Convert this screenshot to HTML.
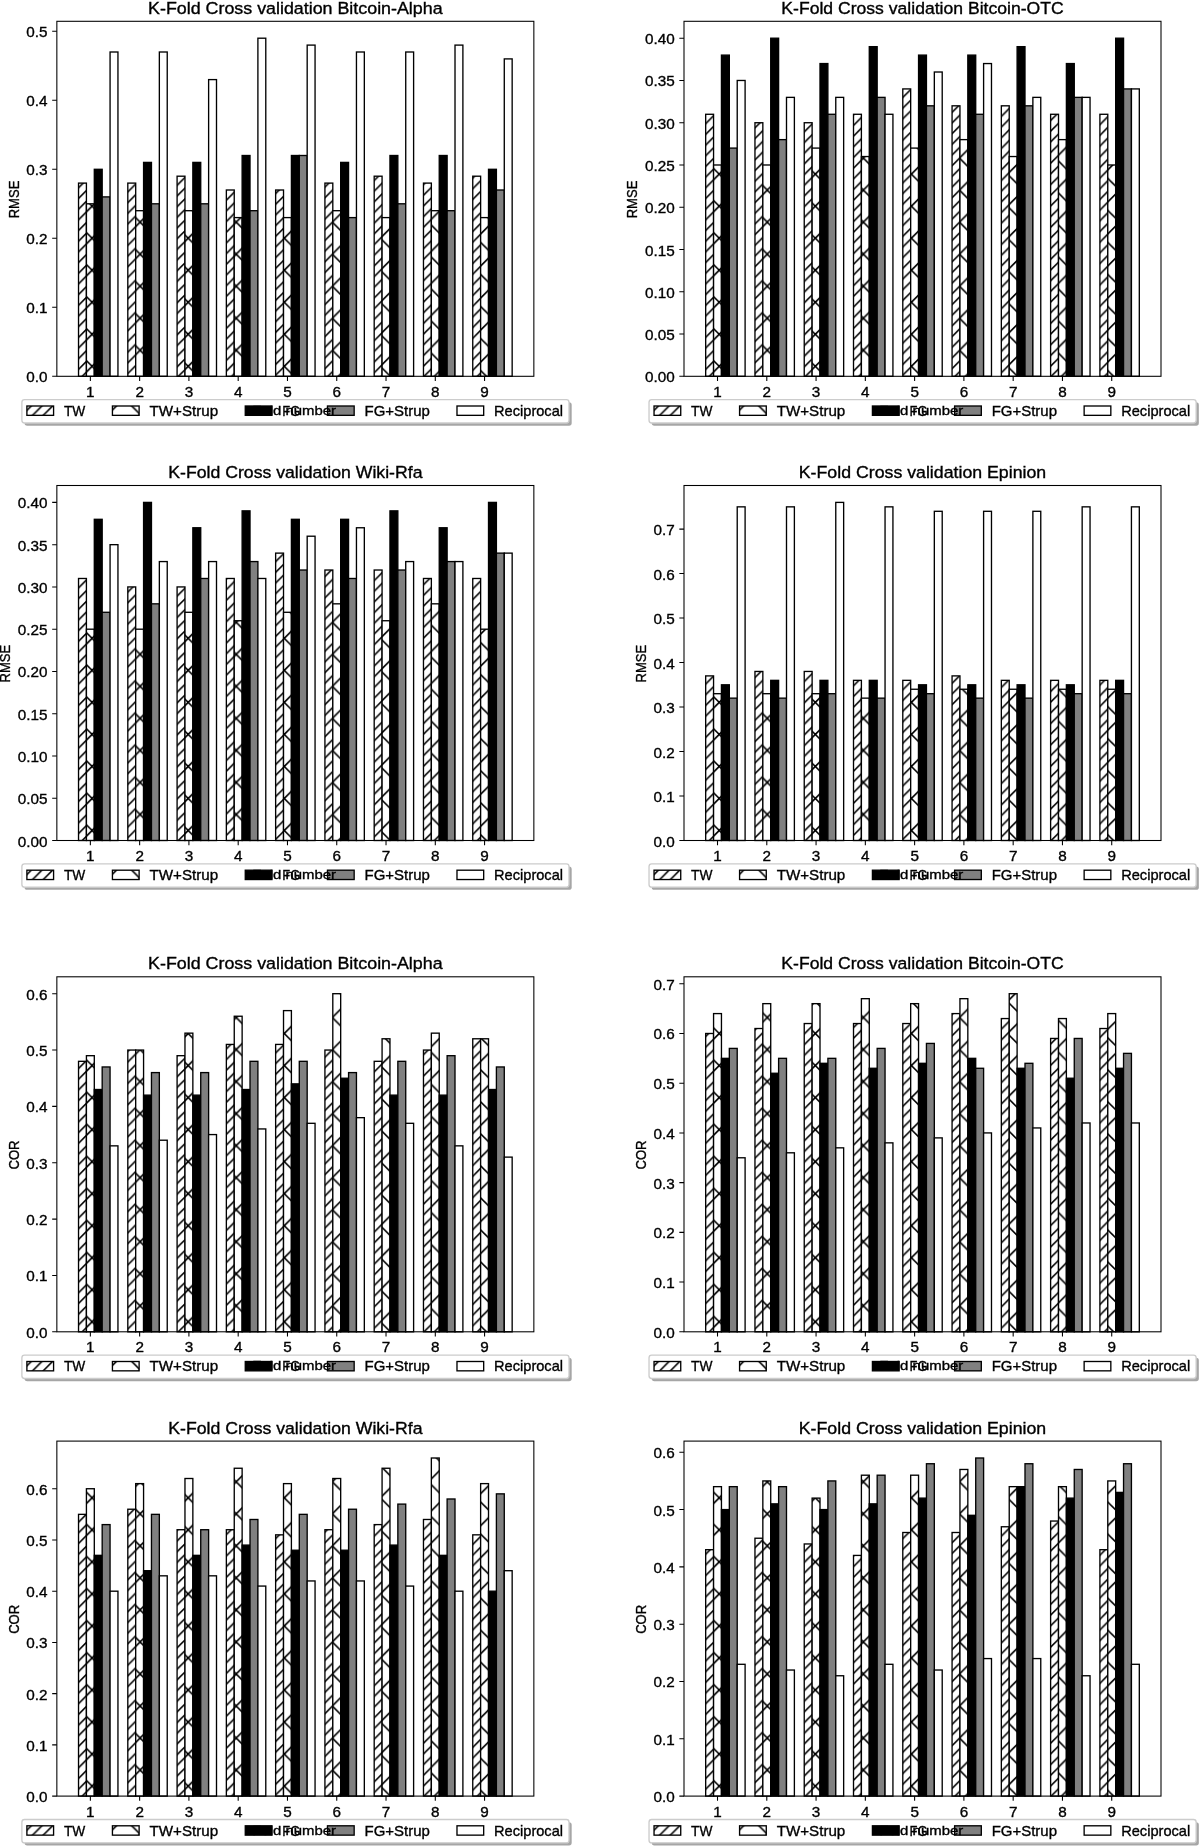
<!DOCTYPE html><html><head><meta charset="utf-8"><title>K-Fold Cross validation</title><style>html,body{margin:0;padding:0;background:#fff;}body{width:1200px;height:1847px;overflow:hidden;font-family:"Liberation Sans",sans-serif;}svg{display:block;filter:grayscale(1);}text{stroke:#000;stroke-width:0.35px;}</style></head><body><svg width="1200" height="1847" viewBox="0 0 1200 1847" font-family="Liberation Sans, sans-serif" fill="#000"><rect width="1200" height="1847" fill="#fff"/><pattern id="h1_0" patternUnits="userSpaceOnUse" x="56.85" y="21.3" width="10.68" height="10.68"><rect width="10.68" height="10.68" fill="#fff"/><path d="M-2 -12.76L12.68 -27.43M-2 -2.08L12.68 -16.76M-2 8.6L12.68 -6.08M-2 19.28L12.68 4.6M-2 29.96L12.68 15.28M-2 40.63L12.68 25.96" stroke="#000" stroke-width="1.6" fill="none"/></pattern><pattern id="hx_0" patternUnits="userSpaceOnUse" x="56.85" y="21.3" width="32.03" height="32.03"><rect width="32.03" height="32.03" fill="#fff"/><path d="M-2 -44.57L34.03 -8.53M-2 -34.17L34.03 -70.2M-2 -12.53L34.03 23.5M-2 -2.13L34.03 -38.17M-2 19.5L34.03 55.53M-2 29.9L34.03 -6.13M-2 51.53L34.03 87.57M-2 61.93L34.03 25.9M-2 83.57L34.03 119.6M-2 93.97L34.03 57.93M-2 115.6L34.03 151.63M-2 126L34.03 89.97" stroke="#000" stroke-width="1.6" fill="none"/></pattern><g stroke="#000" stroke-width="1.34"><rect x="78.53" y="183.1" width="7.88" height="193.2" fill="url(#h1_0)"/><rect x="86.42" y="203.8" width="7.88" height="172.5" fill="url(#hx_0)"/><rect x="94.3" y="169.3" width="7.88" height="207" fill="#000"/><rect x="102.18" y="196.9" width="7.88" height="179.4" fill="#808080"/><rect x="110.07" y="52" width="7.88" height="324.3" fill="#fff"/><rect x="127.81" y="183.1" width="7.88" height="193.2" fill="url(#h1_0)"/><rect x="135.69" y="210.7" width="7.88" height="165.6" fill="url(#hx_0)"/><rect x="143.58" y="162.4" width="7.88" height="213.9" fill="#000"/><rect x="151.46" y="203.8" width="7.88" height="172.5" fill="#808080"/><rect x="159.35" y="52" width="7.88" height="324.3" fill="#fff"/><rect x="177.09" y="176.2" width="7.88" height="200.1" fill="url(#h1_0)"/><rect x="184.97" y="210.7" width="7.88" height="165.6" fill="url(#hx_0)"/><rect x="192.85" y="162.4" width="7.88" height="213.9" fill="#000"/><rect x="200.74" y="203.8" width="7.88" height="172.5" fill="#808080"/><rect x="208.62" y="79.6" width="7.88" height="296.7" fill="#fff"/><rect x="226.36" y="190" width="7.88" height="186.3" fill="url(#h1_0)"/><rect x="234.25" y="217.6" width="7.88" height="158.7" fill="url(#hx_0)"/><rect x="242.13" y="155.5" width="7.88" height="220.8" fill="#000"/><rect x="250.02" y="210.7" width="7.88" height="165.6" fill="#808080"/><rect x="257.9" y="38.2" width="7.88" height="338.1" fill="#fff"/><rect x="275.64" y="190" width="7.88" height="186.3" fill="url(#h1_0)"/><rect x="283.52" y="217.6" width="7.88" height="158.7" fill="url(#hx_0)"/><rect x="291.41" y="155.5" width="7.88" height="220.8" fill="#000"/><rect x="299.29" y="155.5" width="7.88" height="220.8" fill="#808080"/><rect x="307.18" y="45.1" width="7.88" height="331.2" fill="#fff"/><rect x="324.92" y="183.1" width="7.88" height="193.2" fill="url(#h1_0)"/><rect x="332.8" y="210.7" width="7.88" height="165.6" fill="url(#hx_0)"/><rect x="340.68" y="162.4" width="7.88" height="213.9" fill="#000"/><rect x="348.57" y="217.6" width="7.88" height="158.7" fill="#808080"/><rect x="356.45" y="52" width="7.88" height="324.3" fill="#fff"/><rect x="374.19" y="176.2" width="7.88" height="200.1" fill="url(#h1_0)"/><rect x="382.08" y="217.6" width="7.88" height="158.7" fill="url(#hx_0)"/><rect x="389.96" y="155.5" width="7.88" height="220.8" fill="#000"/><rect x="397.85" y="203.8" width="7.88" height="172.5" fill="#808080"/><rect x="405.73" y="52" width="7.88" height="324.3" fill="#fff"/><rect x="423.47" y="183.1" width="7.88" height="193.2" fill="url(#h1_0)"/><rect x="431.35" y="210.7" width="7.88" height="165.6" fill="url(#hx_0)"/><rect x="439.24" y="155.5" width="7.88" height="220.8" fill="#000"/><rect x="447.12" y="210.7" width="7.88" height="165.6" fill="#808080"/><rect x="455.01" y="45.1" width="7.88" height="331.2" fill="#fff"/><rect x="472.75" y="176.2" width="7.88" height="200.1" fill="url(#h1_0)"/><rect x="480.63" y="217.6" width="7.88" height="158.7" fill="url(#hx_0)"/><rect x="488.52" y="169.3" width="7.88" height="207" fill="#000"/><rect x="496.4" y="190" width="7.88" height="186.3" fill="#808080"/><rect x="504.28" y="58.9" width="7.88" height="317.4" fill="#fff"/></g><rect x="56.85" y="21.3" width="477" height="355" fill="none" stroke="#000" stroke-width="1.07"/><path d="M52.18 376.3H56.85M52.18 307.3H56.85M52.18 238.3H56.85M52.18 169.3H56.85M52.18 100.3H56.85M52.18 31.3H56.85M90.36 376.3V380.97M139.64 376.3V380.97M188.91 376.3V380.97M238.19 376.3V380.97M287.47 376.3V380.97M336.74 376.3V380.97M386.02 376.3V380.97M435.3 376.3V380.97M484.57 376.3V380.97" stroke="#000" stroke-width="1.07" fill="none"/><text x="47.51" y="382.3" font-size="15" text-anchor="end" textLength="21.23" lengthAdjust="spacingAndGlyphs">0.0</text><text x="47.51" y="313.3" font-size="15" text-anchor="end" textLength="21.23" lengthAdjust="spacingAndGlyphs">0.1</text><text x="47.51" y="244.3" font-size="15" text-anchor="end" textLength="21.23" lengthAdjust="spacingAndGlyphs">0.2</text><text x="47.51" y="175.3" font-size="15" text-anchor="end" textLength="21.23" lengthAdjust="spacingAndGlyphs">0.3</text><text x="47.51" y="106.3" font-size="15" text-anchor="end" textLength="21.23" lengthAdjust="spacingAndGlyphs">0.4</text><text x="47.51" y="37.3" font-size="15" text-anchor="end" textLength="21.23" lengthAdjust="spacingAndGlyphs">0.5</text><text x="90.36" y="396.9" font-size="15" text-anchor="middle" textLength="8.49" lengthAdjust="spacingAndGlyphs">1</text><text x="139.64" y="396.9" font-size="15" text-anchor="middle" textLength="8.49" lengthAdjust="spacingAndGlyphs">2</text><text x="188.91" y="396.9" font-size="15" text-anchor="middle" textLength="8.49" lengthAdjust="spacingAndGlyphs">3</text><text x="238.19" y="396.9" font-size="15" text-anchor="middle" textLength="8.49" lengthAdjust="spacingAndGlyphs">4</text><text x="287.47" y="396.9" font-size="15" text-anchor="middle" textLength="8.49" lengthAdjust="spacingAndGlyphs">5</text><text x="336.74" y="396.9" font-size="15" text-anchor="middle" textLength="8.49" lengthAdjust="spacingAndGlyphs">6</text><text x="386.02" y="396.9" font-size="15" text-anchor="middle" textLength="8.49" lengthAdjust="spacingAndGlyphs">7</text><text x="435.3" y="396.9" font-size="15" text-anchor="middle" textLength="8.49" lengthAdjust="spacingAndGlyphs">8</text><text x="484.57" y="396.9" font-size="15" text-anchor="middle" textLength="8.49" lengthAdjust="spacingAndGlyphs">9</text><g transform="translate(18.52 199.5) rotate(-90)"><text x="0" y="0" font-size="15" text-anchor="middle" textLength="37.7" lengthAdjust="spacingAndGlyphs">RMSE</text></g><text x="295.35" y="13.9" font-size="16.8" text-anchor="middle" textLength="294.5" lengthAdjust="spacingAndGlyphs">K-Fold Cross validation Bitcoin-Alpha</text><rect x="24.55" y="402.37" width="547.14" height="23.3" rx="2.67" fill="#a6a6a6"/><rect x="21.88" y="399.7" width="547.14" height="23.3" rx="2.67" fill="#fff" stroke="#ccc" stroke-width="1.34"/><rect x="26.89" y="406" width="26.69" height="9.34" fill="url(#h1_0)" stroke="#000" stroke-width="1.34"/><text x="63.96" y="415.7" font-size="15" text-anchor="start" textLength="21.35" lengthAdjust="spacingAndGlyphs">TW</text><rect x="112.43" y="406" width="26.69" height="9.34" fill="url(#hx_0)" stroke="#000" stroke-width="1.34"/><text x="149.5" y="415.7" font-size="15" text-anchor="start" textLength="68.66" lengthAdjust="spacingAndGlyphs">TW+Strup</text><rect x="245.27" y="406" width="26.69" height="9.34" fill="#000" stroke="#000" stroke-width="1.34"/><text x="282.34" y="415.7" font-size="15" text-anchor="start" textLength="18.02" lengthAdjust="spacingAndGlyphs">FG</text><rect x="327.47" y="406" width="26.69" height="9.34" fill="#808080" stroke="#000" stroke-width="1.34"/><text x="364.55" y="415.7" font-size="15" text-anchor="start" textLength="65.33" lengthAdjust="spacingAndGlyphs">FG+Strup</text><rect x="456.99" y="406" width="26.69" height="9.34" fill="#fff" stroke="#000" stroke-width="1.34"/><text x="494.06" y="415.7" font-size="15" text-anchor="start" textLength="68.99" lengthAdjust="spacingAndGlyphs">Reciprocal</text><text x="294.15" y="414.9" font-size="13.4" text-anchor="middle" textLength="83.88" lengthAdjust="spacingAndGlyphs">Fold number</text><pattern id="h1_1" patternUnits="userSpaceOnUse" x="684" y="21.3" width="10.68" height="10.68"><rect width="10.68" height="10.68" fill="#fff"/><path d="M-2 -12.76L12.68 -27.43M-2 -2.08L12.68 -16.76M-2 8.6L12.68 -6.08M-2 19.28L12.68 4.6M-2 29.96L12.68 15.28M-2 40.63L12.68 25.96" stroke="#000" stroke-width="1.6" fill="none"/></pattern><pattern id="hx_1" patternUnits="userSpaceOnUse" x="684" y="21.3" width="32.03" height="32.03"><rect width="32.03" height="32.03" fill="#fff"/><path d="M-2 -44.57L34.03 -8.53M-2 -34.17L34.03 -70.2M-2 -12.53L34.03 23.5M-2 -2.13L34.03 -38.17M-2 19.5L34.03 55.53M-2 29.9L34.03 -6.13M-2 51.53L34.03 87.57M-2 61.93L34.03 25.9M-2 83.57L34.03 119.6M-2 93.97L34.03 57.93M-2 115.6L34.03 151.63M-2 126L34.03 89.97" stroke="#000" stroke-width="1.6" fill="none"/></pattern><g stroke="#000" stroke-width="1.34"><rect x="705.68" y="114.28" width="7.88" height="262.02" fill="url(#h1_1)"/><rect x="713.57" y="164.99" width="7.88" height="211.31" fill="url(#hx_1)"/><rect x="721.45" y="55.11" width="7.88" height="321.19" fill="#000"/><rect x="729.33" y="148.09" width="7.88" height="228.21" fill="#808080"/><rect x="737.22" y="80.47" width="7.88" height="295.83" fill="#fff"/><rect x="754.96" y="122.73" width="7.88" height="253.57" fill="url(#h1_1)"/><rect x="762.84" y="164.99" width="7.88" height="211.31" fill="url(#hx_1)"/><rect x="770.73" y="38.2" width="7.88" height="338.1" fill="#000"/><rect x="778.61" y="139.63" width="7.88" height="236.67" fill="#808080"/><rect x="786.5" y="97.37" width="7.88" height="278.93" fill="#fff"/><rect x="804.24" y="122.73" width="7.88" height="253.57" fill="url(#h1_1)"/><rect x="812.12" y="148.09" width="7.88" height="228.21" fill="url(#hx_1)"/><rect x="820" y="63.56" width="7.88" height="312.74" fill="#000"/><rect x="827.89" y="114.28" width="7.88" height="262.02" fill="#808080"/><rect x="835.77" y="97.37" width="7.88" height="278.93" fill="#fff"/><rect x="853.51" y="114.28" width="7.88" height="262.02" fill="url(#h1_1)"/><rect x="861.4" y="156.54" width="7.88" height="219.76" fill="url(#hx_1)"/><rect x="869.28" y="46.66" width="7.88" height="329.64" fill="#000"/><rect x="877.17" y="97.37" width="7.88" height="278.93" fill="#808080"/><rect x="885.05" y="114.28" width="7.88" height="262.02" fill="#fff"/><rect x="902.79" y="88.92" width="7.88" height="287.38" fill="url(#h1_1)"/><rect x="910.67" y="148.09" width="7.88" height="228.21" fill="url(#hx_1)"/><rect x="918.56" y="55.11" width="7.88" height="321.19" fill="#000"/><rect x="926.44" y="105.82" width="7.88" height="270.48" fill="#808080"/><rect x="934.33" y="72.01" width="7.88" height="304.29" fill="#fff"/><rect x="952.07" y="105.82" width="7.88" height="270.48" fill="url(#h1_1)"/><rect x="959.95" y="139.63" width="7.88" height="236.67" fill="url(#hx_1)"/><rect x="967.83" y="55.11" width="7.88" height="321.19" fill="#000"/><rect x="975.72" y="114.28" width="7.88" height="262.02" fill="#808080"/><rect x="983.6" y="63.56" width="7.88" height="312.74" fill="#fff"/><rect x="1001.34" y="105.82" width="7.88" height="270.48" fill="url(#h1_1)"/><rect x="1009.23" y="156.54" width="7.88" height="219.76" fill="url(#hx_1)"/><rect x="1017.11" y="46.66" width="7.88" height="329.64" fill="#000"/><rect x="1025" y="105.82" width="7.88" height="270.48" fill="#808080"/><rect x="1032.88" y="97.37" width="7.88" height="278.93" fill="#fff"/><rect x="1050.62" y="114.28" width="7.88" height="262.02" fill="url(#h1_1)"/><rect x="1058.5" y="139.63" width="7.88" height="236.67" fill="url(#hx_1)"/><rect x="1066.39" y="63.56" width="7.88" height="312.74" fill="#000"/><rect x="1074.27" y="97.37" width="7.88" height="278.93" fill="#808080"/><rect x="1082.16" y="97.37" width="7.88" height="278.93" fill="#fff"/><rect x="1099.9" y="114.28" width="7.88" height="262.02" fill="url(#h1_1)"/><rect x="1107.78" y="164.99" width="7.88" height="211.31" fill="url(#hx_1)"/><rect x="1115.67" y="38.2" width="7.88" height="338.1" fill="#000"/><rect x="1123.55" y="88.92" width="7.88" height="287.38" fill="#808080"/><rect x="1131.43" y="88.92" width="7.88" height="287.38" fill="#fff"/></g><rect x="684" y="21.3" width="477" height="355" fill="none" stroke="#000" stroke-width="1.07"/><path d="M679.33 376.3H684M679.33 334.04H684M679.33 291.78H684M679.33 249.51H684M679.33 207.25H684M679.33 164.99H684M679.33 122.73H684M679.33 80.47H684M679.33 38.2H684M717.51 376.3V380.97M766.79 376.3V380.97M816.06 376.3V380.97M865.34 376.3V380.97M914.62 376.3V380.97M963.89 376.3V380.97M1013.17 376.3V380.97M1062.45 376.3V380.97M1111.72 376.3V380.97" stroke="#000" stroke-width="1.07" fill="none"/><text x="674.66" y="382.3" font-size="15" text-anchor="end" textLength="29.72" lengthAdjust="spacingAndGlyphs">0.00</text><text x="674.66" y="340.04" font-size="15" text-anchor="end" textLength="29.72" lengthAdjust="spacingAndGlyphs">0.05</text><text x="674.66" y="297.78" font-size="15" text-anchor="end" textLength="29.72" lengthAdjust="spacingAndGlyphs">0.10</text><text x="674.66" y="255.51" font-size="15" text-anchor="end" textLength="29.72" lengthAdjust="spacingAndGlyphs">0.15</text><text x="674.66" y="213.25" font-size="15" text-anchor="end" textLength="29.72" lengthAdjust="spacingAndGlyphs">0.20</text><text x="674.66" y="170.99" font-size="15" text-anchor="end" textLength="29.72" lengthAdjust="spacingAndGlyphs">0.25</text><text x="674.66" y="128.73" font-size="15" text-anchor="end" textLength="29.72" lengthAdjust="spacingAndGlyphs">0.30</text><text x="674.66" y="86.47" font-size="15" text-anchor="end" textLength="29.72" lengthAdjust="spacingAndGlyphs">0.35</text><text x="674.66" y="44.2" font-size="15" text-anchor="end" textLength="29.72" lengthAdjust="spacingAndGlyphs">0.40</text><text x="717.51" y="396.9" font-size="15" text-anchor="middle" textLength="8.49" lengthAdjust="spacingAndGlyphs">1</text><text x="766.79" y="396.9" font-size="15" text-anchor="middle" textLength="8.49" lengthAdjust="spacingAndGlyphs">2</text><text x="816.06" y="396.9" font-size="15" text-anchor="middle" textLength="8.49" lengthAdjust="spacingAndGlyphs">3</text><text x="865.34" y="396.9" font-size="15" text-anchor="middle" textLength="8.49" lengthAdjust="spacingAndGlyphs">4</text><text x="914.62" y="396.9" font-size="15" text-anchor="middle" textLength="8.49" lengthAdjust="spacingAndGlyphs">5</text><text x="963.89" y="396.9" font-size="15" text-anchor="middle" textLength="8.49" lengthAdjust="spacingAndGlyphs">6</text><text x="1013.17" y="396.9" font-size="15" text-anchor="middle" textLength="8.49" lengthAdjust="spacingAndGlyphs">7</text><text x="1062.45" y="396.9" font-size="15" text-anchor="middle" textLength="8.49" lengthAdjust="spacingAndGlyphs">8</text><text x="1111.72" y="396.9" font-size="15" text-anchor="middle" textLength="8.49" lengthAdjust="spacingAndGlyphs">9</text><g transform="translate(637.18 199.5) rotate(-90)"><text x="0" y="0" font-size="15" text-anchor="middle" textLength="37.7" lengthAdjust="spacingAndGlyphs">RMSE</text></g><text x="922.5" y="13.9" font-size="16.8" text-anchor="middle" textLength="282.27" lengthAdjust="spacingAndGlyphs">K-Fold Cross validation Bitcoin-OTC</text><rect x="651.7" y="402.37" width="547.14" height="23.3" rx="2.67" fill="#a6a6a6"/><rect x="649.03" y="399.7" width="547.14" height="23.3" rx="2.67" fill="#fff" stroke="#ccc" stroke-width="1.34"/><rect x="654.04" y="406" width="26.69" height="9.34" fill="url(#h1_1)" stroke="#000" stroke-width="1.34"/><text x="691.11" y="415.7" font-size="15" text-anchor="start" textLength="21.35" lengthAdjust="spacingAndGlyphs">TW</text><rect x="739.58" y="406" width="26.69" height="9.34" fill="url(#hx_1)" stroke="#000" stroke-width="1.34"/><text x="776.65" y="415.7" font-size="15" text-anchor="start" textLength="68.66" lengthAdjust="spacingAndGlyphs">TW+Strup</text><rect x="872.42" y="406" width="26.69" height="9.34" fill="#000" stroke="#000" stroke-width="1.34"/><text x="909.49" y="415.7" font-size="15" text-anchor="start" textLength="18.02" lengthAdjust="spacingAndGlyphs">FG</text><rect x="954.62" y="406" width="26.69" height="9.34" fill="#808080" stroke="#000" stroke-width="1.34"/><text x="991.7" y="415.7" font-size="15" text-anchor="start" textLength="65.33" lengthAdjust="spacingAndGlyphs">FG+Strup</text><rect x="1084.14" y="406" width="26.69" height="9.34" fill="#fff" stroke="#000" stroke-width="1.34"/><text x="1121.21" y="415.7" font-size="15" text-anchor="start" textLength="68.99" lengthAdjust="spacingAndGlyphs">Reciprocal</text><text x="921.3" y="414.9" font-size="13.4" text-anchor="middle" textLength="83.88" lengthAdjust="spacingAndGlyphs">Fold number</text><pattern id="h1_2" patternUnits="userSpaceOnUse" x="56.85" y="485.5" width="10.68" height="10.68"><rect width="10.68" height="10.68" fill="#fff"/><path d="M-2 -12.76L12.68 -27.43M-2 -2.08L12.68 -16.76M-2 8.6L12.68 -6.08M-2 19.28L12.68 4.6M-2 29.96L12.68 15.28M-2 40.63L12.68 25.96" stroke="#000" stroke-width="1.6" fill="none"/></pattern><pattern id="hx_2" patternUnits="userSpaceOnUse" x="56.85" y="485.5" width="32.03" height="32.03"><rect width="32.03" height="32.03" fill="#fff"/><path d="M-2 -44.57L34.03 -8.53M-2 -34.17L34.03 -70.2M-2 -12.53L34.03 23.5M-2 -2.13L34.03 -38.17M-2 19.5L34.03 55.53M-2 29.9L34.03 -6.13M-2 51.53L34.03 87.57M-2 61.93L34.03 25.9M-2 83.57L34.03 119.6M-2 93.97L34.03 57.93M-2 115.6L34.03 151.63M-2 126L34.03 89.97" stroke="#000" stroke-width="1.6" fill="none"/></pattern><g stroke="#000" stroke-width="1.34"><rect x="78.53" y="578.48" width="7.88" height="262.02" fill="url(#h1_2)"/><rect x="86.42" y="629.19" width="7.88" height="211.31" fill="url(#hx_2)"/><rect x="94.3" y="519.31" width="7.88" height="321.19" fill="#000"/><rect x="102.18" y="612.29" width="7.88" height="228.21" fill="#808080"/><rect x="110.07" y="544.67" width="7.88" height="295.83" fill="#fff"/><rect x="127.81" y="586.93" width="7.88" height="253.57" fill="url(#h1_2)"/><rect x="135.69" y="629.19" width="7.88" height="211.31" fill="url(#hx_2)"/><rect x="143.58" y="502.4" width="7.88" height="338.1" fill="#000"/><rect x="151.46" y="603.83" width="7.88" height="236.67" fill="#808080"/><rect x="159.35" y="561.57" width="7.88" height="278.93" fill="#fff"/><rect x="177.09" y="586.93" width="7.88" height="253.57" fill="url(#h1_2)"/><rect x="184.97" y="612.29" width="7.88" height="228.21" fill="url(#hx_2)"/><rect x="192.85" y="527.76" width="7.88" height="312.74" fill="#000"/><rect x="200.74" y="578.48" width="7.88" height="262.02" fill="#808080"/><rect x="208.62" y="561.57" width="7.88" height="278.93" fill="#fff"/><rect x="226.36" y="578.48" width="7.88" height="262.02" fill="url(#h1_2)"/><rect x="234.25" y="620.74" width="7.88" height="219.76" fill="url(#hx_2)"/><rect x="242.13" y="510.86" width="7.88" height="329.64" fill="#000"/><rect x="250.02" y="561.57" width="7.88" height="278.93" fill="#808080"/><rect x="257.9" y="578.48" width="7.88" height="262.02" fill="#fff"/><rect x="275.64" y="553.12" width="7.88" height="287.38" fill="url(#h1_2)"/><rect x="283.52" y="612.29" width="7.88" height="228.21" fill="url(#hx_2)"/><rect x="291.41" y="519.31" width="7.88" height="321.19" fill="#000"/><rect x="299.29" y="570.02" width="7.88" height="270.48" fill="#808080"/><rect x="307.18" y="536.21" width="7.88" height="304.29" fill="#fff"/><rect x="324.92" y="570.02" width="7.88" height="270.48" fill="url(#h1_2)"/><rect x="332.8" y="603.83" width="7.88" height="236.67" fill="url(#hx_2)"/><rect x="340.68" y="519.31" width="7.88" height="321.19" fill="#000"/><rect x="348.57" y="578.48" width="7.88" height="262.02" fill="#808080"/><rect x="356.45" y="527.76" width="7.88" height="312.74" fill="#fff"/><rect x="374.19" y="570.02" width="7.88" height="270.48" fill="url(#h1_2)"/><rect x="382.08" y="620.74" width="7.88" height="219.76" fill="url(#hx_2)"/><rect x="389.96" y="510.86" width="7.88" height="329.64" fill="#000"/><rect x="397.85" y="570.02" width="7.88" height="270.48" fill="#808080"/><rect x="405.73" y="561.57" width="7.88" height="278.93" fill="#fff"/><rect x="423.47" y="578.48" width="7.88" height="262.02" fill="url(#h1_2)"/><rect x="431.35" y="603.83" width="7.88" height="236.67" fill="url(#hx_2)"/><rect x="439.24" y="527.76" width="7.88" height="312.74" fill="#000"/><rect x="447.12" y="561.57" width="7.88" height="278.93" fill="#808080"/><rect x="455.01" y="561.57" width="7.88" height="278.93" fill="#fff"/><rect x="472.75" y="578.48" width="7.88" height="262.02" fill="url(#h1_2)"/><rect x="480.63" y="629.19" width="7.88" height="211.31" fill="url(#hx_2)"/><rect x="488.52" y="502.4" width="7.88" height="338.1" fill="#000"/><rect x="496.4" y="553.12" width="7.88" height="287.38" fill="#808080"/><rect x="504.28" y="553.12" width="7.88" height="287.38" fill="#fff"/></g><rect x="56.85" y="485.5" width="477" height="355" fill="none" stroke="#000" stroke-width="1.07"/><path d="M52.18 840.5H56.85M52.18 798.24H56.85M52.18 755.98H56.85M52.18 713.71H56.85M52.18 671.45H56.85M52.18 629.19H56.85M52.18 586.93H56.85M52.18 544.67H56.85M52.18 502.4H56.85M90.36 840.5V845.17M139.64 840.5V845.17M188.91 840.5V845.17M238.19 840.5V845.17M287.47 840.5V845.17M336.74 840.5V845.17M386.02 840.5V845.17M435.3 840.5V845.17M484.57 840.5V845.17" stroke="#000" stroke-width="1.07" fill="none"/><text x="47.51" y="846.5" font-size="15" text-anchor="end" textLength="29.72" lengthAdjust="spacingAndGlyphs">0.00</text><text x="47.51" y="804.24" font-size="15" text-anchor="end" textLength="29.72" lengthAdjust="spacingAndGlyphs">0.05</text><text x="47.51" y="761.98" font-size="15" text-anchor="end" textLength="29.72" lengthAdjust="spacingAndGlyphs">0.10</text><text x="47.51" y="719.71" font-size="15" text-anchor="end" textLength="29.72" lengthAdjust="spacingAndGlyphs">0.15</text><text x="47.51" y="677.45" font-size="15" text-anchor="end" textLength="29.72" lengthAdjust="spacingAndGlyphs">0.20</text><text x="47.51" y="635.19" font-size="15" text-anchor="end" textLength="29.72" lengthAdjust="spacingAndGlyphs">0.25</text><text x="47.51" y="592.93" font-size="15" text-anchor="end" textLength="29.72" lengthAdjust="spacingAndGlyphs">0.30</text><text x="47.51" y="550.67" font-size="15" text-anchor="end" textLength="29.72" lengthAdjust="spacingAndGlyphs">0.35</text><text x="47.51" y="508.4" font-size="15" text-anchor="end" textLength="29.72" lengthAdjust="spacingAndGlyphs">0.40</text><text x="90.36" y="861.1" font-size="15" text-anchor="middle" textLength="8.49" lengthAdjust="spacingAndGlyphs">1</text><text x="139.64" y="861.1" font-size="15" text-anchor="middle" textLength="8.49" lengthAdjust="spacingAndGlyphs">2</text><text x="188.91" y="861.1" font-size="15" text-anchor="middle" textLength="8.49" lengthAdjust="spacingAndGlyphs">3</text><text x="238.19" y="861.1" font-size="15" text-anchor="middle" textLength="8.49" lengthAdjust="spacingAndGlyphs">4</text><text x="287.47" y="861.1" font-size="15" text-anchor="middle" textLength="8.49" lengthAdjust="spacingAndGlyphs">5</text><text x="336.74" y="861.1" font-size="15" text-anchor="middle" textLength="8.49" lengthAdjust="spacingAndGlyphs">6</text><text x="386.02" y="861.1" font-size="15" text-anchor="middle" textLength="8.49" lengthAdjust="spacingAndGlyphs">7</text><text x="435.3" y="861.1" font-size="15" text-anchor="middle" textLength="8.49" lengthAdjust="spacingAndGlyphs">8</text><text x="484.57" y="861.1" font-size="15" text-anchor="middle" textLength="8.49" lengthAdjust="spacingAndGlyphs">9</text><g transform="translate(10.03 663.7) rotate(-90)"><text x="0" y="0" font-size="15" text-anchor="middle" textLength="37.7" lengthAdjust="spacingAndGlyphs">RMSE</text></g><text x="295.35" y="478.1" font-size="16.8" text-anchor="middle" textLength="254.23" lengthAdjust="spacingAndGlyphs">K-Fold Cross validation Wiki-Rfa</text><rect x="24.55" y="866.57" width="547.14" height="23.3" rx="2.67" fill="#a6a6a6"/><rect x="21.88" y="863.9" width="547.14" height="23.3" rx="2.67" fill="#fff" stroke="#ccc" stroke-width="1.34"/><rect x="26.89" y="870.2" width="26.69" height="9.34" fill="url(#h1_2)" stroke="#000" stroke-width="1.34"/><text x="63.96" y="879.9" font-size="15" text-anchor="start" textLength="21.35" lengthAdjust="spacingAndGlyphs">TW</text><rect x="112.43" y="870.2" width="26.69" height="9.34" fill="url(#hx_2)" stroke="#000" stroke-width="1.34"/><text x="149.5" y="879.9" font-size="15" text-anchor="start" textLength="68.66" lengthAdjust="spacingAndGlyphs">TW+Strup</text><rect x="245.27" y="870.2" width="26.69" height="9.34" fill="#000" stroke="#000" stroke-width="1.34"/><text x="282.34" y="879.9" font-size="15" text-anchor="start" textLength="18.02" lengthAdjust="spacingAndGlyphs">FG</text><rect x="327.47" y="870.2" width="26.69" height="9.34" fill="#808080" stroke="#000" stroke-width="1.34"/><text x="364.55" y="879.9" font-size="15" text-anchor="start" textLength="65.33" lengthAdjust="spacingAndGlyphs">FG+Strup</text><rect x="456.99" y="870.2" width="26.69" height="9.34" fill="#fff" stroke="#000" stroke-width="1.34"/><text x="494.06" y="879.9" font-size="15" text-anchor="start" textLength="68.99" lengthAdjust="spacingAndGlyphs">Reciprocal</text><text x="294.15" y="879.1" font-size="13.4" text-anchor="middle" textLength="83.88" lengthAdjust="spacingAndGlyphs">Fold number</text><pattern id="h1_3" patternUnits="userSpaceOnUse" x="684" y="485.5" width="10.68" height="10.68"><rect width="10.68" height="10.68" fill="#fff"/><path d="M-2 -12.76L12.68 -27.43M-2 -2.08L12.68 -16.76M-2 8.6L12.68 -6.08M-2 19.28L12.68 4.6M-2 29.96L12.68 15.28M-2 40.63L12.68 25.96" stroke="#000" stroke-width="1.6" fill="none"/></pattern><pattern id="hx_3" patternUnits="userSpaceOnUse" x="684" y="485.5" width="32.03" height="32.03"><rect width="32.03" height="32.03" fill="#fff"/><path d="M-2 -44.57L34.03 -8.53M-2 -34.17L34.03 -70.2M-2 -12.53L34.03 23.5M-2 -2.13L34.03 -38.17M-2 19.5L34.03 55.53M-2 29.9L34.03 -6.13M-2 51.53L34.03 87.57M-2 61.93L34.03 25.9M-2 83.57L34.03 119.6M-2 93.97L34.03 57.93M-2 115.6L34.03 151.63M-2 126L34.03 89.97" stroke="#000" stroke-width="1.6" fill="none"/></pattern><g stroke="#000" stroke-width="1.34"><rect x="705.68" y="675.9" width="7.88" height="164.6" fill="url(#h1_3)"/><rect x="713.57" y="693.7" width="7.88" height="146.8" fill="url(#hx_3)"/><rect x="721.45" y="684.8" width="7.88" height="155.7" fill="#000"/><rect x="729.33" y="698.14" width="7.88" height="142.36" fill="#808080"/><rect x="737.22" y="506.85" width="7.88" height="333.65" fill="#fff"/><rect x="754.96" y="671.45" width="7.88" height="169.05" fill="url(#h1_3)"/><rect x="762.84" y="693.7" width="7.88" height="146.8" fill="url(#hx_3)"/><rect x="770.73" y="680.35" width="7.88" height="160.15" fill="#000"/><rect x="778.61" y="698.14" width="7.88" height="142.36" fill="#808080"/><rect x="786.5" y="506.85" width="7.88" height="333.65" fill="#fff"/><rect x="804.24" y="671.45" width="7.88" height="169.05" fill="url(#h1_3)"/><rect x="812.12" y="693.7" width="7.88" height="146.8" fill="url(#hx_3)"/><rect x="820" y="680.35" width="7.88" height="160.15" fill="#000"/><rect x="827.89" y="693.7" width="7.88" height="146.8" fill="#808080"/><rect x="835.77" y="502.4" width="7.88" height="338.1" fill="#fff"/><rect x="853.51" y="680.35" width="7.88" height="160.15" fill="url(#h1_3)"/><rect x="861.4" y="698.14" width="7.88" height="142.36" fill="url(#hx_3)"/><rect x="869.28" y="680.35" width="7.88" height="160.15" fill="#000"/><rect x="877.17" y="698.14" width="7.88" height="142.36" fill="#808080"/><rect x="885.05" y="506.85" width="7.88" height="333.65" fill="#fff"/><rect x="902.79" y="680.35" width="7.88" height="160.15" fill="url(#h1_3)"/><rect x="910.67" y="689.25" width="7.88" height="151.25" fill="url(#hx_3)"/><rect x="918.56" y="684.8" width="7.88" height="155.7" fill="#000"/><rect x="926.44" y="693.7" width="7.88" height="146.8" fill="#808080"/><rect x="934.33" y="511.3" width="7.88" height="329.2" fill="#fff"/><rect x="952.07" y="675.9" width="7.88" height="164.6" fill="url(#h1_3)"/><rect x="959.95" y="689.25" width="7.88" height="151.25" fill="url(#hx_3)"/><rect x="967.83" y="684.8" width="7.88" height="155.7" fill="#000"/><rect x="975.72" y="698.14" width="7.88" height="142.36" fill="#808080"/><rect x="983.6" y="511.3" width="7.88" height="329.2" fill="#fff"/><rect x="1001.34" y="680.35" width="7.88" height="160.15" fill="url(#h1_3)"/><rect x="1009.23" y="689.25" width="7.88" height="151.25" fill="url(#hx_3)"/><rect x="1017.11" y="684.8" width="7.88" height="155.7" fill="#000"/><rect x="1025" y="698.14" width="7.88" height="142.36" fill="#808080"/><rect x="1032.88" y="511.3" width="7.88" height="329.2" fill="#fff"/><rect x="1050.62" y="680.35" width="7.88" height="160.15" fill="url(#h1_3)"/><rect x="1058.5" y="689.25" width="7.88" height="151.25" fill="url(#hx_3)"/><rect x="1066.39" y="684.8" width="7.88" height="155.7" fill="#000"/><rect x="1074.27" y="693.7" width="7.88" height="146.8" fill="#808080"/><rect x="1082.16" y="506.85" width="7.88" height="333.65" fill="#fff"/><rect x="1099.9" y="680.35" width="7.88" height="160.15" fill="url(#h1_3)"/><rect x="1107.78" y="689.25" width="7.88" height="151.25" fill="url(#hx_3)"/><rect x="1115.67" y="680.35" width="7.88" height="160.15" fill="#000"/><rect x="1123.55" y="693.7" width="7.88" height="146.8" fill="#808080"/><rect x="1131.43" y="506.85" width="7.88" height="333.65" fill="#fff"/></g><rect x="684" y="485.5" width="477" height="355" fill="none" stroke="#000" stroke-width="1.07"/><path d="M679.33 840.5H684M679.33 796.01H684M679.33 751.53H684M679.33 707.04H684M679.33 662.56H684M679.33 618.07H684M679.33 573.58H684M679.33 529.1H684M717.51 840.5V845.17M766.79 840.5V845.17M816.06 840.5V845.17M865.34 840.5V845.17M914.62 840.5V845.17M963.89 840.5V845.17M1013.17 840.5V845.17M1062.45 840.5V845.17M1111.72 840.5V845.17" stroke="#000" stroke-width="1.07" fill="none"/><text x="674.66" y="846.5" font-size="15" text-anchor="end" textLength="21.23" lengthAdjust="spacingAndGlyphs">0.0</text><text x="674.66" y="802.01" font-size="15" text-anchor="end" textLength="21.23" lengthAdjust="spacingAndGlyphs">0.1</text><text x="674.66" y="757.53" font-size="15" text-anchor="end" textLength="21.23" lengthAdjust="spacingAndGlyphs">0.2</text><text x="674.66" y="713.04" font-size="15" text-anchor="end" textLength="21.23" lengthAdjust="spacingAndGlyphs">0.3</text><text x="674.66" y="668.56" font-size="15" text-anchor="end" textLength="21.23" lengthAdjust="spacingAndGlyphs">0.4</text><text x="674.66" y="624.07" font-size="15" text-anchor="end" textLength="21.23" lengthAdjust="spacingAndGlyphs">0.5</text><text x="674.66" y="579.58" font-size="15" text-anchor="end" textLength="21.23" lengthAdjust="spacingAndGlyphs">0.6</text><text x="674.66" y="535.1" font-size="15" text-anchor="end" textLength="21.23" lengthAdjust="spacingAndGlyphs">0.7</text><text x="717.51" y="861.1" font-size="15" text-anchor="middle" textLength="8.49" lengthAdjust="spacingAndGlyphs">1</text><text x="766.79" y="861.1" font-size="15" text-anchor="middle" textLength="8.49" lengthAdjust="spacingAndGlyphs">2</text><text x="816.06" y="861.1" font-size="15" text-anchor="middle" textLength="8.49" lengthAdjust="spacingAndGlyphs">3</text><text x="865.34" y="861.1" font-size="15" text-anchor="middle" textLength="8.49" lengthAdjust="spacingAndGlyphs">4</text><text x="914.62" y="861.1" font-size="15" text-anchor="middle" textLength="8.49" lengthAdjust="spacingAndGlyphs">5</text><text x="963.89" y="861.1" font-size="15" text-anchor="middle" textLength="8.49" lengthAdjust="spacingAndGlyphs">6</text><text x="1013.17" y="861.1" font-size="15" text-anchor="middle" textLength="8.49" lengthAdjust="spacingAndGlyphs">7</text><text x="1062.45" y="861.1" font-size="15" text-anchor="middle" textLength="8.49" lengthAdjust="spacingAndGlyphs">8</text><text x="1111.72" y="861.1" font-size="15" text-anchor="middle" textLength="8.49" lengthAdjust="spacingAndGlyphs">9</text><g transform="translate(645.67 663.7) rotate(-90)"><text x="0" y="0" font-size="15" text-anchor="middle" textLength="37.7" lengthAdjust="spacingAndGlyphs">RMSE</text></g><text x="922.5" y="478.1" font-size="16.8" text-anchor="middle" textLength="247.43" lengthAdjust="spacingAndGlyphs">K-Fold Cross validation Epinion</text><rect x="651.7" y="866.57" width="547.14" height="23.3" rx="2.67" fill="#a6a6a6"/><rect x="649.03" y="863.9" width="547.14" height="23.3" rx="2.67" fill="#fff" stroke="#ccc" stroke-width="1.34"/><rect x="654.04" y="870.2" width="26.69" height="9.34" fill="url(#h1_3)" stroke="#000" stroke-width="1.34"/><text x="691.11" y="879.9" font-size="15" text-anchor="start" textLength="21.35" lengthAdjust="spacingAndGlyphs">TW</text><rect x="739.58" y="870.2" width="26.69" height="9.34" fill="url(#hx_3)" stroke="#000" stroke-width="1.34"/><text x="776.65" y="879.9" font-size="15" text-anchor="start" textLength="68.66" lengthAdjust="spacingAndGlyphs">TW+Strup</text><rect x="872.42" y="870.2" width="26.69" height="9.34" fill="#000" stroke="#000" stroke-width="1.34"/><text x="909.49" y="879.9" font-size="15" text-anchor="start" textLength="18.02" lengthAdjust="spacingAndGlyphs">FG</text><rect x="954.62" y="870.2" width="26.69" height="9.34" fill="#808080" stroke="#000" stroke-width="1.34"/><text x="991.7" y="879.9" font-size="15" text-anchor="start" textLength="65.33" lengthAdjust="spacingAndGlyphs">FG+Strup</text><rect x="1084.14" y="870.2" width="26.69" height="9.34" fill="#fff" stroke="#000" stroke-width="1.34"/><text x="1121.21" y="879.9" font-size="15" text-anchor="start" textLength="68.99" lengthAdjust="spacingAndGlyphs">Reciprocal</text><text x="921.3" y="879.1" font-size="13.4" text-anchor="middle" textLength="83.88" lengthAdjust="spacingAndGlyphs">Fold number</text><pattern id="h1_4" patternUnits="userSpaceOnUse" x="56.85" y="976.8" width="10.68" height="10.68"><rect width="10.68" height="10.68" fill="#fff"/><path d="M-2 -12.76L12.68 -27.43M-2 -2.08L12.68 -16.76M-2 8.6L12.68 -6.08M-2 19.28L12.68 4.6M-2 29.96L12.68 15.28M-2 40.63L12.68 25.96" stroke="#000" stroke-width="1.6" fill="none"/></pattern><pattern id="hx_4" patternUnits="userSpaceOnUse" x="56.85" y="976.8" width="32.03" height="32.03"><rect width="32.03" height="32.03" fill="#fff"/><path d="M-2 -44.57L34.03 -8.53M-2 -34.17L34.03 -70.2M-2 -12.53L34.03 23.5M-2 -2.13L34.03 -38.17M-2 19.5L34.03 55.53M-2 29.9L34.03 -6.13M-2 51.53L34.03 87.57M-2 61.93L34.03 25.9M-2 83.57L34.03 119.6M-2 93.97L34.03 57.93M-2 115.6L34.03 151.63M-2 126L34.03 89.97" stroke="#000" stroke-width="1.6" fill="none"/></pattern><g stroke="#000" stroke-width="1.34"><rect x="78.53" y="1061.32" width="7.88" height="270.48" fill="url(#h1_4)"/><rect x="86.42" y="1055.69" width="7.88" height="276.11" fill="url(#hx_4)"/><rect x="94.3" y="1089.5" width="7.88" height="242.3" fill="#000"/><rect x="102.18" y="1066.96" width="7.88" height="264.84" fill="#808080"/><rect x="110.07" y="1145.85" width="7.88" height="185.95" fill="#fff"/><rect x="127.81" y="1050.05" width="7.88" height="281.75" fill="url(#h1_4)"/><rect x="135.69" y="1050.05" width="7.88" height="281.75" fill="url(#hx_4)"/><rect x="143.58" y="1095.13" width="7.88" height="236.67" fill="#000"/><rect x="151.46" y="1072.59" width="7.88" height="259.21" fill="#808080"/><rect x="159.35" y="1140.21" width="7.88" height="191.59" fill="#fff"/><rect x="177.09" y="1055.69" width="7.88" height="276.11" fill="url(#h1_4)"/><rect x="184.97" y="1033.15" width="7.88" height="298.65" fill="url(#hx_4)"/><rect x="192.85" y="1095.13" width="7.88" height="236.67" fill="#000"/><rect x="200.74" y="1072.59" width="7.88" height="259.21" fill="#808080"/><rect x="208.62" y="1134.58" width="7.88" height="197.22" fill="#fff"/><rect x="226.36" y="1044.42" width="7.88" height="287.38" fill="url(#h1_4)"/><rect x="234.25" y="1016.24" width="7.88" height="315.56" fill="url(#hx_4)"/><rect x="242.13" y="1089.5" width="7.88" height="242.3" fill="#000"/><rect x="250.02" y="1061.32" width="7.88" height="270.48" fill="#808080"/><rect x="257.9" y="1128.94" width="7.88" height="202.86" fill="#fff"/><rect x="275.64" y="1044.42" width="7.88" height="287.38" fill="url(#h1_4)"/><rect x="283.52" y="1010.61" width="7.88" height="321.19" fill="url(#hx_4)"/><rect x="291.41" y="1083.86" width="7.88" height="247.94" fill="#000"/><rect x="299.29" y="1061.32" width="7.88" height="270.48" fill="#808080"/><rect x="307.18" y="1123.31" width="7.88" height="208.49" fill="#fff"/><rect x="324.92" y="1050.05" width="7.88" height="281.75" fill="url(#h1_4)"/><rect x="332.8" y="993.7" width="7.88" height="338.1" fill="url(#hx_4)"/><rect x="340.68" y="1078.23" width="7.88" height="253.57" fill="#000"/><rect x="348.57" y="1072.59" width="7.88" height="259.21" fill="#808080"/><rect x="356.45" y="1117.67" width="7.88" height="214.13" fill="#fff"/><rect x="374.19" y="1061.32" width="7.88" height="270.48" fill="url(#h1_4)"/><rect x="382.08" y="1038.78" width="7.88" height="293.02" fill="url(#hx_4)"/><rect x="389.96" y="1095.13" width="7.88" height="236.67" fill="#000"/><rect x="397.85" y="1061.32" width="7.88" height="270.48" fill="#808080"/><rect x="405.73" y="1123.31" width="7.88" height="208.49" fill="#fff"/><rect x="423.47" y="1050.05" width="7.88" height="281.75" fill="url(#h1_4)"/><rect x="431.35" y="1033.15" width="7.88" height="298.65" fill="url(#hx_4)"/><rect x="439.24" y="1095.13" width="7.88" height="236.67" fill="#000"/><rect x="447.12" y="1055.69" width="7.88" height="276.11" fill="#808080"/><rect x="455.01" y="1145.85" width="7.88" height="185.95" fill="#fff"/><rect x="472.75" y="1038.78" width="7.88" height="293.02" fill="url(#h1_4)"/><rect x="480.63" y="1038.78" width="7.88" height="293.02" fill="url(#hx_4)"/><rect x="488.52" y="1089.5" width="7.88" height="242.3" fill="#000"/><rect x="496.4" y="1066.96" width="7.88" height="264.84" fill="#808080"/><rect x="504.28" y="1157.12" width="7.88" height="174.68" fill="#fff"/></g><rect x="56.85" y="976.8" width="477" height="355" fill="none" stroke="#000" stroke-width="1.07"/><path d="M52.18 1331.8H56.85M52.18 1275.45H56.85M52.18 1219.1H56.85M52.18 1162.75H56.85M52.18 1106.4H56.85M52.18 1050.05H56.85M52.18 993.7H56.85M90.36 1331.8V1336.47M139.64 1331.8V1336.47M188.91 1331.8V1336.47M238.19 1331.8V1336.47M287.47 1331.8V1336.47M336.74 1331.8V1336.47M386.02 1331.8V1336.47M435.3 1331.8V1336.47M484.57 1331.8V1336.47" stroke="#000" stroke-width="1.07" fill="none"/><text x="47.51" y="1337.8" font-size="15" text-anchor="end" textLength="21.23" lengthAdjust="spacingAndGlyphs">0.0</text><text x="47.51" y="1281.45" font-size="15" text-anchor="end" textLength="21.23" lengthAdjust="spacingAndGlyphs">0.1</text><text x="47.51" y="1225.1" font-size="15" text-anchor="end" textLength="21.23" lengthAdjust="spacingAndGlyphs">0.2</text><text x="47.51" y="1168.75" font-size="15" text-anchor="end" textLength="21.23" lengthAdjust="spacingAndGlyphs">0.3</text><text x="47.51" y="1112.4" font-size="15" text-anchor="end" textLength="21.23" lengthAdjust="spacingAndGlyphs">0.4</text><text x="47.51" y="1056.05" font-size="15" text-anchor="end" textLength="21.23" lengthAdjust="spacingAndGlyphs">0.5</text><text x="47.51" y="999.7" font-size="15" text-anchor="end" textLength="21.23" lengthAdjust="spacingAndGlyphs">0.6</text><text x="90.36" y="1352.4" font-size="15" text-anchor="middle" textLength="8.49" lengthAdjust="spacingAndGlyphs">1</text><text x="139.64" y="1352.4" font-size="15" text-anchor="middle" textLength="8.49" lengthAdjust="spacingAndGlyphs">2</text><text x="188.91" y="1352.4" font-size="15" text-anchor="middle" textLength="8.49" lengthAdjust="spacingAndGlyphs">3</text><text x="238.19" y="1352.4" font-size="15" text-anchor="middle" textLength="8.49" lengthAdjust="spacingAndGlyphs">4</text><text x="287.47" y="1352.4" font-size="15" text-anchor="middle" textLength="8.49" lengthAdjust="spacingAndGlyphs">5</text><text x="336.74" y="1352.4" font-size="15" text-anchor="middle" textLength="8.49" lengthAdjust="spacingAndGlyphs">6</text><text x="386.02" y="1352.4" font-size="15" text-anchor="middle" textLength="8.49" lengthAdjust="spacingAndGlyphs">7</text><text x="435.3" y="1352.4" font-size="15" text-anchor="middle" textLength="8.49" lengthAdjust="spacingAndGlyphs">8</text><text x="484.57" y="1352.4" font-size="15" text-anchor="middle" textLength="8.49" lengthAdjust="spacingAndGlyphs">9</text><g transform="translate(18.52 1155) rotate(-90)"><text x="0" y="0" font-size="15" text-anchor="middle" textLength="29.1" lengthAdjust="spacingAndGlyphs">COR</text></g><text x="295.35" y="969.4" font-size="16.8" text-anchor="middle" textLength="294.5" lengthAdjust="spacingAndGlyphs">K-Fold Cross validation Bitcoin-Alpha</text><rect x="24.55" y="1357.87" width="547.14" height="23.3" rx="2.67" fill="#a6a6a6"/><rect x="21.88" y="1355.2" width="547.14" height="23.3" rx="2.67" fill="#fff" stroke="#ccc" stroke-width="1.34"/><rect x="26.89" y="1361.5" width="26.69" height="9.34" fill="url(#h1_4)" stroke="#000" stroke-width="1.34"/><text x="63.96" y="1371.2" font-size="15" text-anchor="start" textLength="21.35" lengthAdjust="spacingAndGlyphs">TW</text><rect x="112.43" y="1361.5" width="26.69" height="9.34" fill="url(#hx_4)" stroke="#000" stroke-width="1.34"/><text x="149.5" y="1371.2" font-size="15" text-anchor="start" textLength="68.66" lengthAdjust="spacingAndGlyphs">TW+Strup</text><rect x="245.27" y="1361.5" width="26.69" height="9.34" fill="#000" stroke="#000" stroke-width="1.34"/><text x="282.34" y="1371.2" font-size="15" text-anchor="start" textLength="18.02" lengthAdjust="spacingAndGlyphs">FG</text><rect x="327.47" y="1361.5" width="26.69" height="9.34" fill="#808080" stroke="#000" stroke-width="1.34"/><text x="364.55" y="1371.2" font-size="15" text-anchor="start" textLength="65.33" lengthAdjust="spacingAndGlyphs">FG+Strup</text><rect x="456.99" y="1361.5" width="26.69" height="9.34" fill="#fff" stroke="#000" stroke-width="1.34"/><text x="494.06" y="1371.2" font-size="15" text-anchor="start" textLength="68.99" lengthAdjust="spacingAndGlyphs">Reciprocal</text><text x="294.15" y="1370.4" font-size="13.4" text-anchor="middle" textLength="83.88" lengthAdjust="spacingAndGlyphs">Fold number</text><pattern id="h1_5" patternUnits="userSpaceOnUse" x="684" y="976.8" width="10.68" height="10.68"><rect width="10.68" height="10.68" fill="#fff"/><path d="M-2 -12.76L12.68 -27.43M-2 -2.08L12.68 -16.76M-2 8.6L12.68 -6.08M-2 19.28L12.68 4.6M-2 29.96L12.68 15.28M-2 40.63L12.68 25.96" stroke="#000" stroke-width="1.6" fill="none"/></pattern><pattern id="hx_5" patternUnits="userSpaceOnUse" x="684" y="976.8" width="32.03" height="32.03"><rect width="32.03" height="32.03" fill="#fff"/><path d="M-2 -44.57L34.03 -8.53M-2 -34.17L34.03 -70.2M-2 -12.53L34.03 23.5M-2 -2.13L34.03 -38.17M-2 19.5L34.03 55.53M-2 29.9L34.03 -6.13M-2 51.53L34.03 87.57M-2 61.93L34.03 25.9M-2 83.57L34.03 119.6M-2 93.97L34.03 57.93M-2 115.6L34.03 151.63M-2 126L34.03 89.97" stroke="#000" stroke-width="1.6" fill="none"/></pattern><g stroke="#000" stroke-width="1.34"><rect x="705.68" y="1033.48" width="7.88" height="298.32" fill="url(#h1_5)"/><rect x="713.57" y="1013.59" width="7.88" height="318.21" fill="url(#hx_5)"/><rect x="721.45" y="1058.34" width="7.88" height="273.46" fill="#000"/><rect x="729.33" y="1048.4" width="7.88" height="283.4" fill="#808080"/><rect x="737.22" y="1157.78" width="7.88" height="174.02" fill="#fff"/><rect x="754.96" y="1028.51" width="7.88" height="303.29" fill="url(#h1_5)"/><rect x="762.84" y="1003.65" width="7.88" height="328.15" fill="url(#hx_5)"/><rect x="770.73" y="1073.26" width="7.88" height="258.54" fill="#000"/><rect x="778.61" y="1058.34" width="7.88" height="273.46" fill="#808080"/><rect x="786.5" y="1152.81" width="7.88" height="178.99" fill="#fff"/><rect x="804.24" y="1023.54" width="7.88" height="308.26" fill="url(#h1_5)"/><rect x="812.12" y="1003.65" width="7.88" height="328.15" fill="url(#hx_5)"/><rect x="820" y="1063.31" width="7.88" height="268.49" fill="#000"/><rect x="827.89" y="1058.34" width="7.88" height="273.46" fill="#808080"/><rect x="835.77" y="1147.84" width="7.88" height="183.96" fill="#fff"/><rect x="853.51" y="1023.54" width="7.88" height="308.26" fill="url(#h1_5)"/><rect x="861.4" y="998.68" width="7.88" height="333.12" fill="url(#hx_5)"/><rect x="869.28" y="1068.28" width="7.88" height="263.52" fill="#000"/><rect x="877.17" y="1048.4" width="7.88" height="283.4" fill="#808080"/><rect x="885.05" y="1142.86" width="7.88" height="188.94" fill="#fff"/><rect x="902.79" y="1023.54" width="7.88" height="308.26" fill="url(#h1_5)"/><rect x="910.67" y="1003.65" width="7.88" height="328.15" fill="url(#hx_5)"/><rect x="918.56" y="1063.31" width="7.88" height="268.49" fill="#000"/><rect x="926.44" y="1043.42" width="7.88" height="288.38" fill="#808080"/><rect x="934.33" y="1137.89" width="7.88" height="193.91" fill="#fff"/><rect x="952.07" y="1013.59" width="7.88" height="318.21" fill="url(#h1_5)"/><rect x="959.95" y="998.68" width="7.88" height="333.12" fill="url(#hx_5)"/><rect x="967.83" y="1058.34" width="7.88" height="273.46" fill="#000"/><rect x="975.72" y="1068.28" width="7.88" height="263.52" fill="#808080"/><rect x="983.6" y="1132.92" width="7.88" height="198.88" fill="#fff"/><rect x="1001.34" y="1018.56" width="7.88" height="313.24" fill="url(#h1_5)"/><rect x="1009.23" y="993.7" width="7.88" height="338.1" fill="url(#hx_5)"/><rect x="1017.11" y="1068.28" width="7.88" height="263.52" fill="#000"/><rect x="1025" y="1063.31" width="7.88" height="268.49" fill="#808080"/><rect x="1032.88" y="1127.95" width="7.88" height="203.85" fill="#fff"/><rect x="1050.62" y="1038.45" width="7.88" height="293.35" fill="url(#h1_5)"/><rect x="1058.5" y="1018.56" width="7.88" height="313.24" fill="url(#hx_5)"/><rect x="1066.39" y="1078.23" width="7.88" height="253.57" fill="#000"/><rect x="1074.27" y="1038.45" width="7.88" height="293.35" fill="#808080"/><rect x="1082.16" y="1122.98" width="7.88" height="208.82" fill="#fff"/><rect x="1099.9" y="1028.51" width="7.88" height="303.29" fill="url(#h1_5)"/><rect x="1107.78" y="1013.59" width="7.88" height="318.21" fill="url(#hx_5)"/><rect x="1115.67" y="1068.28" width="7.88" height="263.52" fill="#000"/><rect x="1123.55" y="1053.37" width="7.88" height="278.43" fill="#808080"/><rect x="1131.43" y="1122.98" width="7.88" height="208.82" fill="#fff"/></g><rect x="684" y="976.8" width="477" height="355" fill="none" stroke="#000" stroke-width="1.07"/><path d="M679.33 1331.8H684M679.33 1282.08H684M679.33 1232.36H684M679.33 1182.64H684M679.33 1132.92H684M679.33 1083.2H684M679.33 1033.48H684M679.33 983.76H684M717.51 1331.8V1336.47M766.79 1331.8V1336.47M816.06 1331.8V1336.47M865.34 1331.8V1336.47M914.62 1331.8V1336.47M963.89 1331.8V1336.47M1013.17 1331.8V1336.47M1062.45 1331.8V1336.47M1111.72 1331.8V1336.47" stroke="#000" stroke-width="1.07" fill="none"/><text x="674.66" y="1337.8" font-size="15" text-anchor="end" textLength="21.23" lengthAdjust="spacingAndGlyphs">0.0</text><text x="674.66" y="1288.08" font-size="15" text-anchor="end" textLength="21.23" lengthAdjust="spacingAndGlyphs">0.1</text><text x="674.66" y="1238.36" font-size="15" text-anchor="end" textLength="21.23" lengthAdjust="spacingAndGlyphs">0.2</text><text x="674.66" y="1188.64" font-size="15" text-anchor="end" textLength="21.23" lengthAdjust="spacingAndGlyphs">0.3</text><text x="674.66" y="1138.92" font-size="15" text-anchor="end" textLength="21.23" lengthAdjust="spacingAndGlyphs">0.4</text><text x="674.66" y="1089.2" font-size="15" text-anchor="end" textLength="21.23" lengthAdjust="spacingAndGlyphs">0.5</text><text x="674.66" y="1039.48" font-size="15" text-anchor="end" textLength="21.23" lengthAdjust="spacingAndGlyphs">0.6</text><text x="674.66" y="989.76" font-size="15" text-anchor="end" textLength="21.23" lengthAdjust="spacingAndGlyphs">0.7</text><text x="717.51" y="1352.4" font-size="15" text-anchor="middle" textLength="8.49" lengthAdjust="spacingAndGlyphs">1</text><text x="766.79" y="1352.4" font-size="15" text-anchor="middle" textLength="8.49" lengthAdjust="spacingAndGlyphs">2</text><text x="816.06" y="1352.4" font-size="15" text-anchor="middle" textLength="8.49" lengthAdjust="spacingAndGlyphs">3</text><text x="865.34" y="1352.4" font-size="15" text-anchor="middle" textLength="8.49" lengthAdjust="spacingAndGlyphs">4</text><text x="914.62" y="1352.4" font-size="15" text-anchor="middle" textLength="8.49" lengthAdjust="spacingAndGlyphs">5</text><text x="963.89" y="1352.4" font-size="15" text-anchor="middle" textLength="8.49" lengthAdjust="spacingAndGlyphs">6</text><text x="1013.17" y="1352.4" font-size="15" text-anchor="middle" textLength="8.49" lengthAdjust="spacingAndGlyphs">7</text><text x="1062.45" y="1352.4" font-size="15" text-anchor="middle" textLength="8.49" lengthAdjust="spacingAndGlyphs">8</text><text x="1111.72" y="1352.4" font-size="15" text-anchor="middle" textLength="8.49" lengthAdjust="spacingAndGlyphs">9</text><g transform="translate(645.67 1155) rotate(-90)"><text x="0" y="0" font-size="15" text-anchor="middle" textLength="29.1" lengthAdjust="spacingAndGlyphs">COR</text></g><text x="922.5" y="969.4" font-size="16.8" text-anchor="middle" textLength="282.27" lengthAdjust="spacingAndGlyphs">K-Fold Cross validation Bitcoin-OTC</text><rect x="651.7" y="1357.87" width="547.14" height="23.3" rx="2.67" fill="#a6a6a6"/><rect x="649.03" y="1355.2" width="547.14" height="23.3" rx="2.67" fill="#fff" stroke="#ccc" stroke-width="1.34"/><rect x="654.04" y="1361.5" width="26.69" height="9.34" fill="url(#h1_5)" stroke="#000" stroke-width="1.34"/><text x="691.11" y="1371.2" font-size="15" text-anchor="start" textLength="21.35" lengthAdjust="spacingAndGlyphs">TW</text><rect x="739.58" y="1361.5" width="26.69" height="9.34" fill="url(#hx_5)" stroke="#000" stroke-width="1.34"/><text x="776.65" y="1371.2" font-size="15" text-anchor="start" textLength="68.66" lengthAdjust="spacingAndGlyphs">TW+Strup</text><rect x="872.42" y="1361.5" width="26.69" height="9.34" fill="#000" stroke="#000" stroke-width="1.34"/><text x="909.49" y="1371.2" font-size="15" text-anchor="start" textLength="18.02" lengthAdjust="spacingAndGlyphs">FG</text><rect x="954.62" y="1361.5" width="26.69" height="9.34" fill="#808080" stroke="#000" stroke-width="1.34"/><text x="991.7" y="1371.2" font-size="15" text-anchor="start" textLength="65.33" lengthAdjust="spacingAndGlyphs">FG+Strup</text><rect x="1084.14" y="1361.5" width="26.69" height="9.34" fill="#fff" stroke="#000" stroke-width="1.34"/><text x="1121.21" y="1371.2" font-size="15" text-anchor="start" textLength="68.99" lengthAdjust="spacingAndGlyphs">Reciprocal</text><text x="921.3" y="1370.4" font-size="13.4" text-anchor="middle" textLength="83.88" lengthAdjust="spacingAndGlyphs">Fold number</text><pattern id="h1_6" patternUnits="userSpaceOnUse" x="56.85" y="1441.1" width="10.68" height="10.68"><rect width="10.68" height="10.68" fill="#fff"/><path d="M-2 -12.76L12.68 -27.43M-2 -2.08L12.68 -16.76M-2 8.6L12.68 -6.08M-2 19.28L12.68 4.6M-2 29.96L12.68 15.28M-2 40.63L12.68 25.96" stroke="#000" stroke-width="1.6" fill="none"/></pattern><pattern id="hx_6" patternUnits="userSpaceOnUse" x="56.85" y="1441.1" width="32.03" height="32.03"><rect width="32.03" height="32.03" fill="#fff"/><path d="M-2 -44.57L34.03 -8.53M-2 -34.17L34.03 -70.2M-2 -12.53L34.03 23.5M-2 -2.13L34.03 -38.17M-2 19.5L34.03 55.53M-2 29.9L34.03 -6.13M-2 51.53L34.03 87.57M-2 61.93L34.03 25.9M-2 83.57L34.03 119.6M-2 93.97L34.03 57.93M-2 115.6L34.03 151.63M-2 126L34.03 89.97" stroke="#000" stroke-width="1.6" fill="none"/></pattern><g stroke="#000" stroke-width="1.34"><rect x="78.53" y="1514.35" width="7.88" height="281.75" fill="url(#h1_6)"/><rect x="86.42" y="1488.74" width="7.88" height="307.36" fill="url(#hx_6)"/><rect x="94.3" y="1555.34" width="7.88" height="240.76" fill="#000"/><rect x="102.18" y="1524.6" width="7.88" height="271.5" fill="#808080"/><rect x="110.07" y="1591.19" width="7.88" height="204.91" fill="#fff"/><rect x="127.81" y="1509.23" width="7.88" height="286.87" fill="url(#h1_6)"/><rect x="135.69" y="1483.62" width="7.88" height="312.48" fill="url(#hx_6)"/><rect x="143.58" y="1570.7" width="7.88" height="225.4" fill="#000"/><rect x="151.46" y="1514.35" width="7.88" height="281.75" fill="#808080"/><rect x="159.35" y="1575.83" width="7.88" height="220.27" fill="#fff"/><rect x="177.09" y="1529.72" width="7.88" height="266.38" fill="url(#h1_6)"/><rect x="184.97" y="1478.5" width="7.88" height="317.6" fill="url(#hx_6)"/><rect x="192.85" y="1555.34" width="7.88" height="240.76" fill="#000"/><rect x="200.74" y="1529.72" width="7.88" height="266.38" fill="#808080"/><rect x="208.62" y="1575.83" width="7.88" height="220.27" fill="#fff"/><rect x="226.36" y="1529.72" width="7.88" height="266.38" fill="url(#h1_6)"/><rect x="234.25" y="1468.25" width="7.88" height="327.85" fill="url(#hx_6)"/><rect x="242.13" y="1545.09" width="7.88" height="251.01" fill="#000"/><rect x="250.02" y="1519.48" width="7.88" height="276.62" fill="#808080"/><rect x="257.9" y="1586.07" width="7.88" height="210.03" fill="#fff"/><rect x="275.64" y="1534.84" width="7.88" height="261.26" fill="url(#h1_6)"/><rect x="283.52" y="1483.62" width="7.88" height="312.48" fill="url(#hx_6)"/><rect x="291.41" y="1550.21" width="7.88" height="245.89" fill="#000"/><rect x="299.29" y="1514.35" width="7.88" height="281.75" fill="#808080"/><rect x="307.18" y="1580.95" width="7.88" height="215.15" fill="#fff"/><rect x="324.92" y="1529.72" width="7.88" height="266.38" fill="url(#h1_6)"/><rect x="332.8" y="1478.5" width="7.88" height="317.6" fill="url(#hx_6)"/><rect x="340.68" y="1550.21" width="7.88" height="245.89" fill="#000"/><rect x="348.57" y="1509.23" width="7.88" height="286.87" fill="#808080"/><rect x="356.45" y="1580.95" width="7.88" height="215.15" fill="#fff"/><rect x="374.19" y="1524.6" width="7.88" height="271.5" fill="url(#h1_6)"/><rect x="382.08" y="1468.25" width="7.88" height="327.85" fill="url(#hx_6)"/><rect x="389.96" y="1545.09" width="7.88" height="251.01" fill="#000"/><rect x="397.85" y="1504.11" width="7.88" height="291.99" fill="#808080"/><rect x="405.73" y="1586.07" width="7.88" height="210.03" fill="#fff"/><rect x="423.47" y="1519.48" width="7.88" height="276.62" fill="url(#h1_6)"/><rect x="431.35" y="1458" width="7.88" height="338.1" fill="url(#hx_6)"/><rect x="439.24" y="1555.34" width="7.88" height="240.76" fill="#000"/><rect x="447.12" y="1498.99" width="7.88" height="297.11" fill="#808080"/><rect x="455.01" y="1591.19" width="7.88" height="204.91" fill="#fff"/><rect x="472.75" y="1534.84" width="7.88" height="261.26" fill="url(#h1_6)"/><rect x="480.63" y="1483.62" width="7.88" height="312.48" fill="url(#hx_6)"/><rect x="488.52" y="1591.19" width="7.88" height="204.91" fill="#000"/><rect x="496.4" y="1493.86" width="7.88" height="302.24" fill="#808080"/><rect x="504.28" y="1570.7" width="7.88" height="225.4" fill="#fff"/></g><rect x="56.85" y="1441.1" width="477" height="355" fill="none" stroke="#000" stroke-width="1.07"/><path d="M52.18 1796.1H56.85M52.18 1744.87H56.85M52.18 1693.65H56.85M52.18 1642.42H56.85M52.18 1591.19H56.85M52.18 1539.97H56.85M52.18 1488.74H56.85M90.36 1796.1V1800.77M139.64 1796.1V1800.77M188.91 1796.1V1800.77M238.19 1796.1V1800.77M287.47 1796.1V1800.77M336.74 1796.1V1800.77M386.02 1796.1V1800.77M435.3 1796.1V1800.77M484.57 1796.1V1800.77" stroke="#000" stroke-width="1.07" fill="none"/><text x="47.51" y="1802.1" font-size="15" text-anchor="end" textLength="21.23" lengthAdjust="spacingAndGlyphs">0.0</text><text x="47.51" y="1750.87" font-size="15" text-anchor="end" textLength="21.23" lengthAdjust="spacingAndGlyphs">0.1</text><text x="47.51" y="1699.65" font-size="15" text-anchor="end" textLength="21.23" lengthAdjust="spacingAndGlyphs">0.2</text><text x="47.51" y="1648.42" font-size="15" text-anchor="end" textLength="21.23" lengthAdjust="spacingAndGlyphs">0.3</text><text x="47.51" y="1597.19" font-size="15" text-anchor="end" textLength="21.23" lengthAdjust="spacingAndGlyphs">0.4</text><text x="47.51" y="1545.97" font-size="15" text-anchor="end" textLength="21.23" lengthAdjust="spacingAndGlyphs">0.5</text><text x="47.51" y="1494.74" font-size="15" text-anchor="end" textLength="21.23" lengthAdjust="spacingAndGlyphs">0.6</text><text x="90.36" y="1816.7" font-size="15" text-anchor="middle" textLength="8.49" lengthAdjust="spacingAndGlyphs">1</text><text x="139.64" y="1816.7" font-size="15" text-anchor="middle" textLength="8.49" lengthAdjust="spacingAndGlyphs">2</text><text x="188.91" y="1816.7" font-size="15" text-anchor="middle" textLength="8.49" lengthAdjust="spacingAndGlyphs">3</text><text x="238.19" y="1816.7" font-size="15" text-anchor="middle" textLength="8.49" lengthAdjust="spacingAndGlyphs">4</text><text x="287.47" y="1816.7" font-size="15" text-anchor="middle" textLength="8.49" lengthAdjust="spacingAndGlyphs">5</text><text x="336.74" y="1816.7" font-size="15" text-anchor="middle" textLength="8.49" lengthAdjust="spacingAndGlyphs">6</text><text x="386.02" y="1816.7" font-size="15" text-anchor="middle" textLength="8.49" lengthAdjust="spacingAndGlyphs">7</text><text x="435.3" y="1816.7" font-size="15" text-anchor="middle" textLength="8.49" lengthAdjust="spacingAndGlyphs">8</text><text x="484.57" y="1816.7" font-size="15" text-anchor="middle" textLength="8.49" lengthAdjust="spacingAndGlyphs">9</text><g transform="translate(18.52 1619.3) rotate(-90)"><text x="0" y="0" font-size="15" text-anchor="middle" textLength="29.1" lengthAdjust="spacingAndGlyphs">COR</text></g><text x="295.35" y="1433.7" font-size="16.8" text-anchor="middle" textLength="254.23" lengthAdjust="spacingAndGlyphs">K-Fold Cross validation Wiki-Rfa</text><rect x="24.55" y="1822.17" width="547.14" height="23.3" rx="2.67" fill="#a6a6a6"/><rect x="21.88" y="1819.5" width="547.14" height="23.3" rx="2.67" fill="#fff" stroke="#ccc" stroke-width="1.34"/><rect x="26.89" y="1825.8" width="26.69" height="9.34" fill="url(#h1_6)" stroke="#000" stroke-width="1.34"/><text x="63.96" y="1835.5" font-size="15" text-anchor="start" textLength="21.35" lengthAdjust="spacingAndGlyphs">TW</text><rect x="112.43" y="1825.8" width="26.69" height="9.34" fill="url(#hx_6)" stroke="#000" stroke-width="1.34"/><text x="149.5" y="1835.5" font-size="15" text-anchor="start" textLength="68.66" lengthAdjust="spacingAndGlyphs">TW+Strup</text><rect x="245.27" y="1825.8" width="26.69" height="9.34" fill="#000" stroke="#000" stroke-width="1.34"/><text x="282.34" y="1835.5" font-size="15" text-anchor="start" textLength="18.02" lengthAdjust="spacingAndGlyphs">FG</text><rect x="327.47" y="1825.8" width="26.69" height="9.34" fill="#808080" stroke="#000" stroke-width="1.34"/><text x="364.55" y="1835.5" font-size="15" text-anchor="start" textLength="65.33" lengthAdjust="spacingAndGlyphs">FG+Strup</text><rect x="456.99" y="1825.8" width="26.69" height="9.34" fill="#fff" stroke="#000" stroke-width="1.34"/><text x="494.06" y="1835.5" font-size="15" text-anchor="start" textLength="68.99" lengthAdjust="spacingAndGlyphs">Reciprocal</text><text x="294.15" y="1834.7" font-size="13.4" text-anchor="middle" textLength="83.88" lengthAdjust="spacingAndGlyphs">Fold number</text><pattern id="h1_7" patternUnits="userSpaceOnUse" x="684" y="1441.1" width="10.68" height="10.68"><rect width="10.68" height="10.68" fill="#fff"/><path d="M-2 -12.76L12.68 -27.43M-2 -2.08L12.68 -16.76M-2 8.6L12.68 -6.08M-2 19.28L12.68 4.6M-2 29.96L12.68 15.28M-2 40.63L12.68 25.96" stroke="#000" stroke-width="1.6" fill="none"/></pattern><pattern id="hx_7" patternUnits="userSpaceOnUse" x="684" y="1441.1" width="32.03" height="32.03"><rect width="32.03" height="32.03" fill="#fff"/><path d="M-2 -44.57L34.03 -8.53M-2 -34.17L34.03 -70.2M-2 -12.53L34.03 23.5M-2 -2.13L34.03 -38.17M-2 19.5L34.03 55.53M-2 29.9L34.03 -6.13M-2 51.53L34.03 87.57M-2 61.93L34.03 25.9M-2 83.57L34.03 119.6M-2 93.97L34.03 57.93M-2 115.6L34.03 151.63M-2 126L34.03 89.97" stroke="#000" stroke-width="1.6" fill="none"/></pattern><g stroke="#000" stroke-width="1.34"><rect x="705.68" y="1549.69" width="7.88" height="246.41" fill="url(#h1_7)"/><rect x="713.57" y="1486.66" width="7.88" height="309.44" fill="url(#hx_7)"/><rect x="721.45" y="1509.58" width="7.88" height="286.52" fill="#000"/><rect x="729.33" y="1486.66" width="7.88" height="309.44" fill="#808080"/><rect x="737.22" y="1664.3" width="7.88" height="131.8" fill="#fff"/><rect x="754.96" y="1538.23" width="7.88" height="257.87" fill="url(#h1_7)"/><rect x="762.84" y="1480.93" width="7.88" height="315.17" fill="url(#hx_7)"/><rect x="770.73" y="1503.85" width="7.88" height="292.25" fill="#000"/><rect x="778.61" y="1486.66" width="7.88" height="309.44" fill="#808080"/><rect x="786.5" y="1670.03" width="7.88" height="126.07" fill="#fff"/><rect x="804.24" y="1543.96" width="7.88" height="252.14" fill="url(#h1_7)"/><rect x="812.12" y="1498.12" width="7.88" height="297.98" fill="url(#hx_7)"/><rect x="820" y="1509.58" width="7.88" height="286.52" fill="#000"/><rect x="827.89" y="1480.93" width="7.88" height="315.17" fill="#808080"/><rect x="835.77" y="1675.76" width="7.88" height="120.34" fill="#fff"/><rect x="853.51" y="1555.42" width="7.88" height="240.68" fill="url(#h1_7)"/><rect x="861.4" y="1475.2" width="7.88" height="320.9" fill="url(#hx_7)"/><rect x="869.28" y="1503.85" width="7.88" height="292.25" fill="#000"/><rect x="877.17" y="1475.2" width="7.88" height="320.9" fill="#808080"/><rect x="885.05" y="1664.3" width="7.88" height="131.8" fill="#fff"/><rect x="902.79" y="1532.5" width="7.88" height="263.6" fill="url(#h1_7)"/><rect x="910.67" y="1475.2" width="7.88" height="320.9" fill="url(#hx_7)"/><rect x="918.56" y="1498.12" width="7.88" height="297.98" fill="#000"/><rect x="926.44" y="1463.74" width="7.88" height="332.36" fill="#808080"/><rect x="934.33" y="1670.03" width="7.88" height="126.07" fill="#fff"/><rect x="952.07" y="1532.5" width="7.88" height="263.6" fill="url(#h1_7)"/><rect x="959.95" y="1469.47" width="7.88" height="326.63" fill="url(#hx_7)"/><rect x="967.83" y="1515.31" width="7.88" height="280.79" fill="#000"/><rect x="975.72" y="1458" width="7.88" height="338.1" fill="#808080"/><rect x="983.6" y="1658.57" width="7.88" height="137.53" fill="#fff"/><rect x="1001.34" y="1526.77" width="7.88" height="269.33" fill="url(#h1_7)"/><rect x="1009.23" y="1486.66" width="7.88" height="309.44" fill="url(#hx_7)"/><rect x="1017.11" y="1486.66" width="7.88" height="309.44" fill="#000"/><rect x="1025" y="1463.74" width="7.88" height="332.36" fill="#808080"/><rect x="1032.88" y="1658.57" width="7.88" height="137.53" fill="#fff"/><rect x="1050.62" y="1521.04" width="7.88" height="275.06" fill="url(#h1_7)"/><rect x="1058.5" y="1486.66" width="7.88" height="309.44" fill="url(#hx_7)"/><rect x="1066.39" y="1498.12" width="7.88" height="297.98" fill="#000"/><rect x="1074.27" y="1469.47" width="7.88" height="326.63" fill="#808080"/><rect x="1082.16" y="1675.76" width="7.88" height="120.34" fill="#fff"/><rect x="1099.9" y="1549.69" width="7.88" height="246.41" fill="url(#h1_7)"/><rect x="1107.78" y="1480.93" width="7.88" height="315.17" fill="url(#hx_7)"/><rect x="1115.67" y="1492.39" width="7.88" height="303.71" fill="#000"/><rect x="1123.55" y="1463.74" width="7.88" height="332.36" fill="#808080"/><rect x="1131.43" y="1664.3" width="7.88" height="131.8" fill="#fff"/></g><rect x="684" y="1441.1" width="477" height="355" fill="none" stroke="#000" stroke-width="1.07"/><path d="M679.33 1796.1H684M679.33 1738.8H684M679.33 1681.49H684M679.33 1624.19H684M679.33 1566.88H684M679.33 1509.58H684M679.33 1452.27H684M717.51 1796.1V1800.77M766.79 1796.1V1800.77M816.06 1796.1V1800.77M865.34 1796.1V1800.77M914.62 1796.1V1800.77M963.89 1796.1V1800.77M1013.17 1796.1V1800.77M1062.45 1796.1V1800.77M1111.72 1796.1V1800.77" stroke="#000" stroke-width="1.07" fill="none"/><text x="674.66" y="1802.1" font-size="15" text-anchor="end" textLength="21.23" lengthAdjust="spacingAndGlyphs">0.0</text><text x="674.66" y="1744.8" font-size="15" text-anchor="end" textLength="21.23" lengthAdjust="spacingAndGlyphs">0.1</text><text x="674.66" y="1687.49" font-size="15" text-anchor="end" textLength="21.23" lengthAdjust="spacingAndGlyphs">0.2</text><text x="674.66" y="1630.19" font-size="15" text-anchor="end" textLength="21.23" lengthAdjust="spacingAndGlyphs">0.3</text><text x="674.66" y="1572.88" font-size="15" text-anchor="end" textLength="21.23" lengthAdjust="spacingAndGlyphs">0.4</text><text x="674.66" y="1515.58" font-size="15" text-anchor="end" textLength="21.23" lengthAdjust="spacingAndGlyphs">0.5</text><text x="674.66" y="1458.27" font-size="15" text-anchor="end" textLength="21.23" lengthAdjust="spacingAndGlyphs">0.6</text><text x="717.51" y="1816.7" font-size="15" text-anchor="middle" textLength="8.49" lengthAdjust="spacingAndGlyphs">1</text><text x="766.79" y="1816.7" font-size="15" text-anchor="middle" textLength="8.49" lengthAdjust="spacingAndGlyphs">2</text><text x="816.06" y="1816.7" font-size="15" text-anchor="middle" textLength="8.49" lengthAdjust="spacingAndGlyphs">3</text><text x="865.34" y="1816.7" font-size="15" text-anchor="middle" textLength="8.49" lengthAdjust="spacingAndGlyphs">4</text><text x="914.62" y="1816.7" font-size="15" text-anchor="middle" textLength="8.49" lengthAdjust="spacingAndGlyphs">5</text><text x="963.89" y="1816.7" font-size="15" text-anchor="middle" textLength="8.49" lengthAdjust="spacingAndGlyphs">6</text><text x="1013.17" y="1816.7" font-size="15" text-anchor="middle" textLength="8.49" lengthAdjust="spacingAndGlyphs">7</text><text x="1062.45" y="1816.7" font-size="15" text-anchor="middle" textLength="8.49" lengthAdjust="spacingAndGlyphs">8</text><text x="1111.72" y="1816.7" font-size="15" text-anchor="middle" textLength="8.49" lengthAdjust="spacingAndGlyphs">9</text><g transform="translate(645.67 1619.3) rotate(-90)"><text x="0" y="0" font-size="15" text-anchor="middle" textLength="29.1" lengthAdjust="spacingAndGlyphs">COR</text></g><text x="922.5" y="1433.7" font-size="16.8" text-anchor="middle" textLength="247.43" lengthAdjust="spacingAndGlyphs">K-Fold Cross validation Epinion</text><rect x="651.7" y="1822.17" width="547.14" height="23.3" rx="2.67" fill="#a6a6a6"/><rect x="649.03" y="1819.5" width="547.14" height="23.3" rx="2.67" fill="#fff" stroke="#ccc" stroke-width="1.34"/><rect x="654.04" y="1825.8" width="26.69" height="9.34" fill="url(#h1_7)" stroke="#000" stroke-width="1.34"/><text x="691.11" y="1835.5" font-size="15" text-anchor="start" textLength="21.35" lengthAdjust="spacingAndGlyphs">TW</text><rect x="739.58" y="1825.8" width="26.69" height="9.34" fill="url(#hx_7)" stroke="#000" stroke-width="1.34"/><text x="776.65" y="1835.5" font-size="15" text-anchor="start" textLength="68.66" lengthAdjust="spacingAndGlyphs">TW+Strup</text><rect x="872.42" y="1825.8" width="26.69" height="9.34" fill="#000" stroke="#000" stroke-width="1.34"/><text x="909.49" y="1835.5" font-size="15" text-anchor="start" textLength="18.02" lengthAdjust="spacingAndGlyphs">FG</text><rect x="954.62" y="1825.8" width="26.69" height="9.34" fill="#808080" stroke="#000" stroke-width="1.34"/><text x="991.7" y="1835.5" font-size="15" text-anchor="start" textLength="65.33" lengthAdjust="spacingAndGlyphs">FG+Strup</text><rect x="1084.14" y="1825.8" width="26.69" height="9.34" fill="#fff" stroke="#000" stroke-width="1.34"/><text x="1121.21" y="1835.5" font-size="15" text-anchor="start" textLength="68.99" lengthAdjust="spacingAndGlyphs">Reciprocal</text><text x="921.3" y="1834.7" font-size="13.4" text-anchor="middle" textLength="83.88" lengthAdjust="spacingAndGlyphs">Fold number</text></svg></body></html>
